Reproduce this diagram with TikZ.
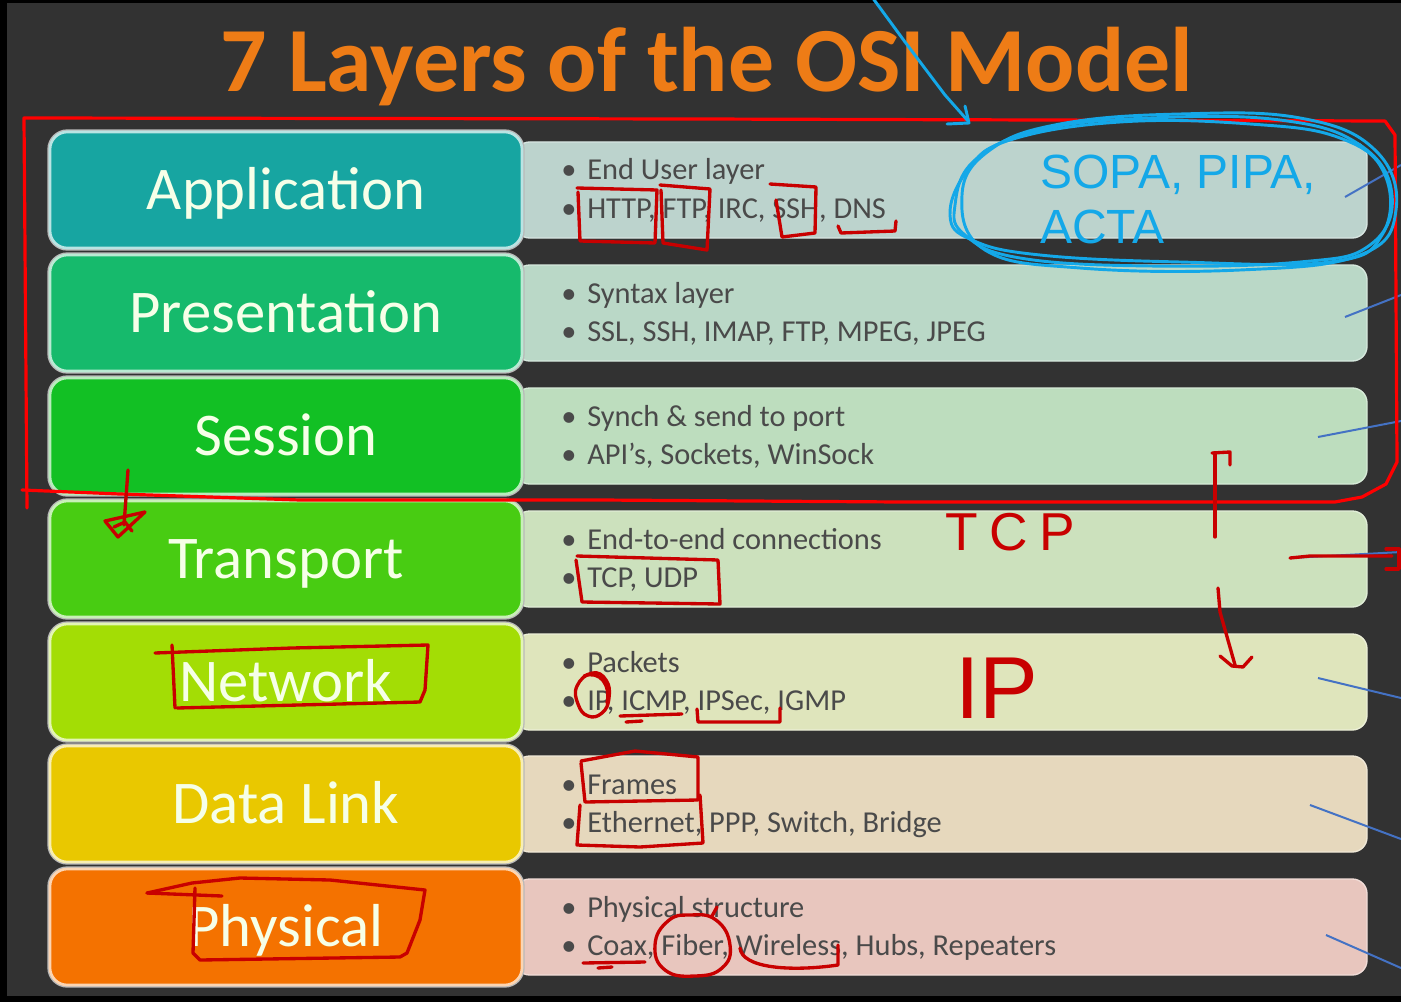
\documentclass[tikz,border=0pt]{standalone}
\usepackage{fontspec}
\setmainfont{Carlito}
\newfontfamily\handfont{Liberation Sans}
\newfontfamily\handwidefont[LetterSpace=22]{Liberation Sans}

% layer colours
\definecolor{bgdark}{HTML}{323232}
\definecolor{titleorange}{HTML}{EE7C16}
\definecolor{appc}{HTML}{17A5A1}
\definecolor{presc}{HTML}{16BA6C}
\definecolor{sessc}{HTML}{12C024}
\definecolor{transc}{HTML}{48CC12}
\definecolor{netc}{HTML}{A3DD05}
\definecolor{dlc}{HTML}{E9C800}
\definecolor{physc}{HTML}{F47200}
\definecolor{appr}{HTML}{BCD3CD}
\definecolor{presr}{HTML}{BAD8C7}
\definecolor{sessr}{HTML}{BDDDBE}
\definecolor{transr}{HTML}{CCE1BD}
\definecolor{netr}{HTML}{DFE5BC}
\definecolor{dlr}{HTML}{E6D8BD}
\definecolor{physr}{HTML}{E8C6BE}
\definecolor{labeltext}{HTML}{F6FFE8}
\definecolor{itemtext}{HTML}{4A4A4A}
\definecolor{penred}{HTML}{C80000}
\definecolor{boxred}{HTML}{FF0000}
\definecolor{penblue}{HTML}{14A8E8}
\definecolor{callout}{HTML}{4472C4}

\begin{document}
\begin{tikzpicture}[x=0.75pt,y=-0.75pt,
  leftbox/.style={rounded corners=13pt, minimum width=354pt, minimum height=87pt, inner sep=0pt,
    fill=#1, draw=#1!30!white, line width=2pt,
    preaction={draw=gray!55, line width=4pt},
    text=labeltext, font=\fontsize{45.5pt}{48pt}\selectfont, text height=29pt, text depth=0pt},
  rightbox/.style={rounded corners=11pt, minimum width=639pt, minimum height=72pt, inner sep=0pt,
    fill=#1, draw=#1!60!white, line width=1pt},
  item/.style={anchor=base west, inner sep=0pt, text=itemtext, font=\fontsize{22.8pt}{24pt}\selectfont},
  redpen/.style={draw=penred, line width=2.5pt, line cap=round, line join=round},
  redframe/.style={draw=boxred, line width=2.4pt, line cap=round, line join=round},
  bluepen/.style={draw=penblue, line width=2.2pt, line cap=round, line join=round},
  calloutline/.style={draw=callout, line width=1.5pt},
  handred/.style={inner sep=0pt, text=penred, font=\handwidefont\fontsize{40pt}{42pt}\selectfont},
  handblue/.style={inner sep=0pt, text=penblue, font=\handfont\fontsize{36pt}{40pt}\selectfont}
]
\useasboundingbox (0,0) rectangle (1401,1002);

% background
\fill[black] (0,0) rectangle (1401,1002);
\fill[bgdark] (7,3) rectangle (1401,996);

% title
\node[anchor=base, inner sep=0pt, text=titleorange,
      font=\bfseries\fontsize{68.8pt}{70pt}\selectfont] (title) at (707,92) {7 Layers of the OSI Model};

% description panels
\node[rightbox=appr]   (appR)   at (941,190) {};
\node[rightbox=presr]  (presR)  at (941,313) {};
\node[rightbox=sessr]  (sessR)  at (941,436) {};
\node[rightbox=transr] (transR) at (941,559) {};
\node[rightbox=netr]   (netR)   at (941,682) {};
\node[rightbox=dlr]    (dlR)    at (941,804) {};
\node[rightbox=physr]  (physR)  at (941,927) {};

% layer names
\node[leftbox=appc]   (app)   at (286,190) {Application};
\node[leftbox=presc]  (pres)  at (286,313) {Presentation};
\node[leftbox=sessc]  (sess)  at (286,436) {Session};
\node[leftbox=transc] (trans) at (286,559) {Transport};
\node[leftbox=netc]   (net)   at (286,682) {Network};
\node[leftbox=dlc]    (dl)    at (286,804) {Data Link};
\node[leftbox=physc]  (phys)  at (286,927) {Physical};

% bullet items
\newcommand{\bul}{\makebox[19.5pt][l]{\textbullet}}
\node[item] (appA)   at (561,180) {\bul End User layer};
\node[item] (appB)   at (561,218) {\bul HTTP, FTP, IRC, SSH, DNS};
\node[item] (presA)  at (561,303) {\bul Syntax layer};
\node[item] (presB)  at (561,341) {\bul SSL, SSH, IMAP, FTP, MPEG, JPEG};
\node[item] (sessA)  at (561,426) {\bul Synch \& send to port};
\node[item] (sessB)  at (561,464) {\bul API’s, Sockets, WinSock};
\node[item] (transA) at (561,549) {\bul End-to-end connections};
\node[item] (transB) at (561,587) {\bul TCP, UDP};
\node[item] (netA)   at (561,672) {\bul Packets};
\node[item] (netB)   at (561,710) {\bul IP, ICMP, IPSec, IGMP};
\node[item] (dlA)    at (561,794) {\bul Frames};
\node[item] (dlB)    at (561,832) {\bul Ethernet, PPP, Switch, Bridge};
\node[item] (physA)  at (561,917) {\bul Physical structure};
\node[item] (physB)  at (561,955) {\bul Coax, Fiber, Wireless, Hubs, Repeaters};

% callout lines leaving the panels
\draw[calloutline] (1345,197) -- (1401,165);
\draw[calloutline] (1345,317) -- (1401,295);
\draw[calloutline] (1318,437) -- (1401,421);
\draw[calloutline] (1290,558) -- (1401,552);
\draw[calloutline] (1318,678) -- (1401,698);
\draw[calloutline] (1310,805) -- (1401,839);
\draw[calloutline] (1326,935) -- (1401,968);

% frame around the upper three layers
\draw[redframe] (27,508) -- (24,118) -- (700,119) -- (1385,121) -- (1395,135) -- (1396,300)
  -- (1397,462) -- (1386,484) -- (1362,497) -- (1335,502) -- (900,502) -- (600,500)
  -- (300,500) -- (120,494) -- (22,490);

% blue arrow and loops
\draw[bluepen] (872,-3) -- (905,42) -- (945,95) -- (968,121);
\draw[bluepen] (965,106) -- (969,123) -- (947,124);
\draw[bluepen] plot[smooth cycle, tension=0.7] coordinates {(955,205) (975,160) (1040,130) (1150,118)
  (1280,120) (1360,145) (1392,195) (1370,245) (1300,262) (1150,266) (1020,258) (965,235)};
\draw[bluepen] plot[smooth cycle, tension=0.7] coordinates {(962,195) (990,150) (1060,124) (1180,114)
  (1300,118) (1375,150) (1396,210) (1360,255) (1240,270) (1080,268) (985,250)};
\draw[bluepen] plot[smooth cycle, tension=0.7] coordinates {(950,215) (968,170) (1010,140) (1120,122)
  (1250,124) (1340,138) (1385,175) (1382,235) (1330,262) (1180,262) (1040,255) (972,240)};
\node[handblue, anchor=base west] (sopa) at (1040,188) {SOPA, PIPA,};
\node[handblue, anchor=base west] (acta) at (1040,243) {ACTA};

% red pen marks on the items
\draw[redpen] (577,188) -- (657,190) -- (655,243) -- (580,241) -- (578,192);
\draw[redpen] (660,185) -- (710,189) -- (707,250) -- (663,243) -- (661,190);
\draw[redpen] (770,184) -- (816,187) -- (815,233) -- (782,237) -- (776,200);
\draw[redpen] (838,226) -- (841,233) -- (895,231) -- (896,221);
\draw[redpen] (577,556) -- (718,560) -- (720,604) -- (582,602) -- (576,560);
\draw[redpen] plot[smooth cycle, tension=0.8] coordinates {(592,673) (606,680) (609,698) (602,713)
  (588,716) (578,704) (577,686)};
\draw[redpen] (584,676) .. controls (600,670) and (611,685) .. (607,703);
\draw[redpen] (620,716) -- (682,714);
\draw[redpen] (626,722) -- (642,721);
\draw[redpen] (697,709) -- (698,722) -- (780,722) -- (780,708);
\draw[redpen] (581,761) -- (635,751) -- (698,757) -- (698,800) -- (585,802) -- (581,763);
\draw[redpen] (580,805) -- (577,845) -- (640,847) -- (703,843) -- (700,795);
\draw[redpen] (583,963) -- (645,962);
\draw[redpen] (598,968) -- (612,967);
\draw[redpen] plot[smooth cycle, tension=0.8] coordinates {(690,915) (716,920) (730,945) (722,968)
  (695,976) (665,970) (655,945) (668,921)};
\draw[redpen] (712,916) -- (717,907);
\draw[redpen] (740,948) .. controls (742,968) and (790,972) .. (838,965) -- (838,945);

% red pen marks on the layer names
\draw[redpen] (155,653) -- (292,648) -- (428,645) -- (425,690) -- (420,702) -- (177,708);
\draw[redpen] (172,645) -- (175,708);
\draw[redpen] (147,893) -- (192,883) -- (240,878) -- (330,880) -- (425,890) -- (420,920)
  -- (407,953) -- (400,957) -- (200,960) -- (193,953) -- (195,888);
\draw[redpen] (147,893) -- (222,896);
\draw[redpen] (128,470) -- (124,525);
\draw[redpen] (105,521) -- (145,512) -- (118,537) -- cycle;
\draw[redpen] (114,527) -- (125,522) -- (132,531);

% red pen notes on the right
\node[handred, anchor=base west] (tcp) at (945,550) {TCP};
\node[handred, anchor=base, font=\handfont\fontsize{66pt}{68pt}\selectfont] (ip) at (997,718) {IP};
\draw[redpen] (1230,465) -- (1230,452) -- (1212,453);
\draw[redpen] (1215,453) -- (1215,537);
\draw[redpen] (1218,588) -- (1220,612) -- (1235,665);
\draw[redpen] (1220,656) -- (1232,666) -- (1243,667) -- (1252,657);
\draw[redpen] (1290,558) -- (1310,556) -- (1392,556);
\draw[redpen] (1386,549) -- (1399,549) -- (1399,569) -- (1386,569);
\end{tikzpicture}
\end{document}
